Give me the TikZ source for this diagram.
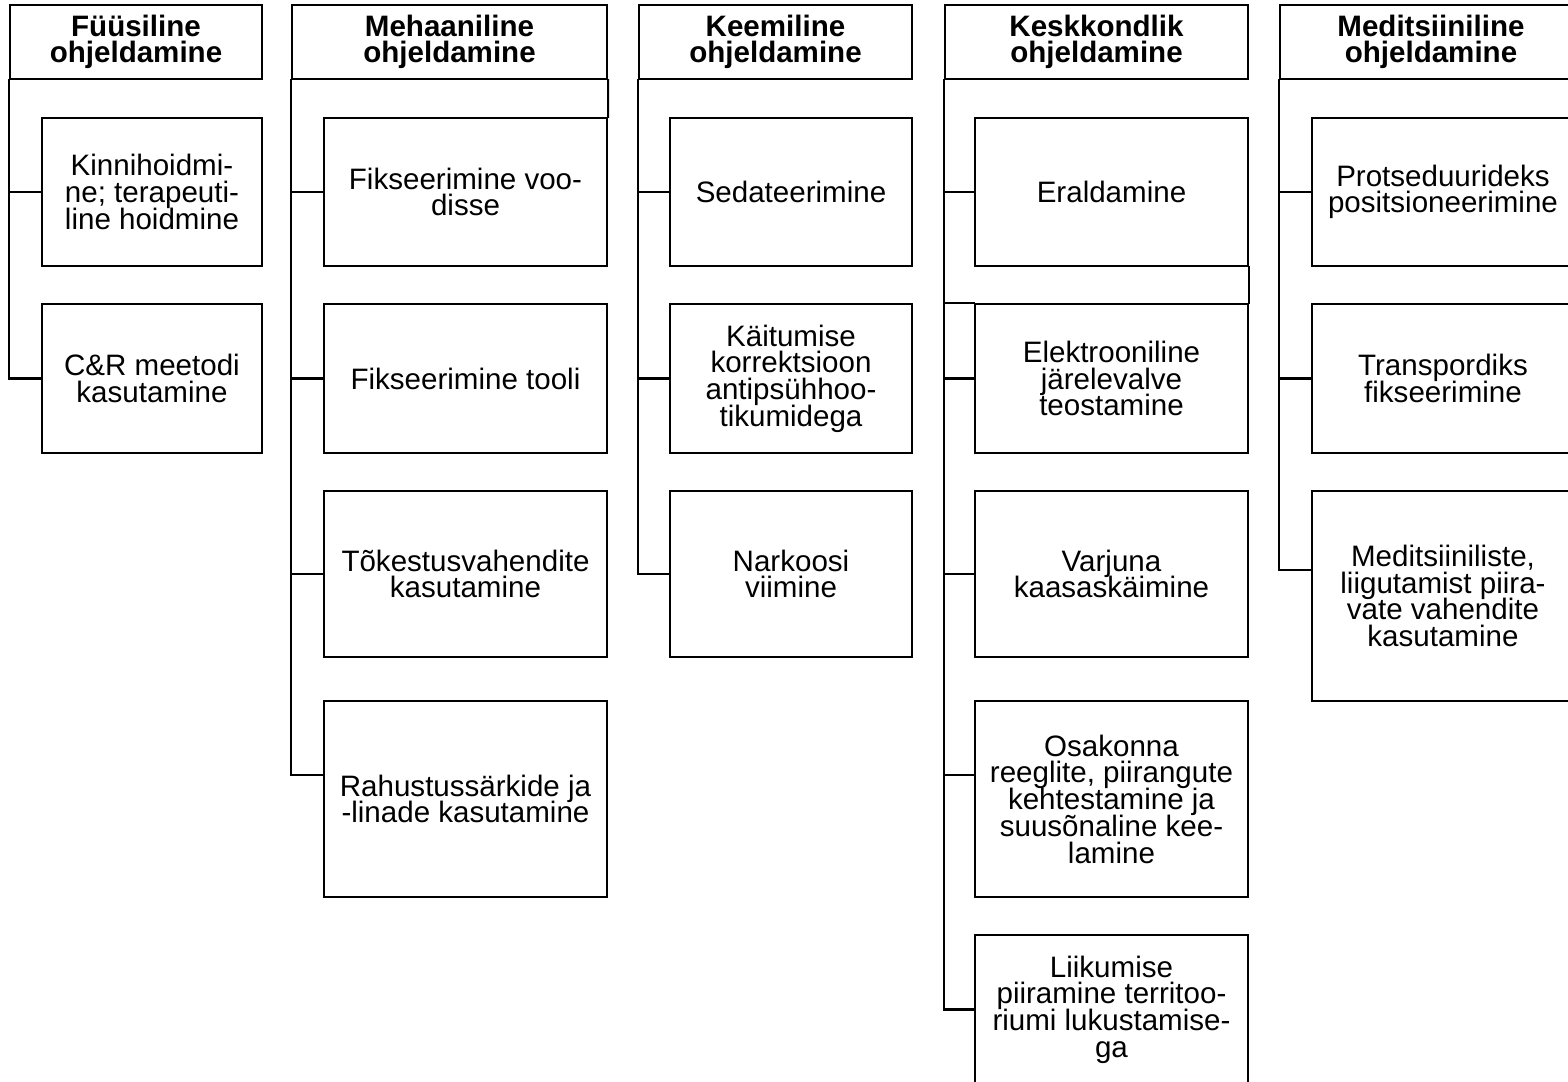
\documentclass[tikz,border=0pt]{standalone}
\usepackage{fontspec}
\setmainfont{Liberation Sans}
\usepackage{tikz}
\setlength{\lineskiplimit}{-20pt}
\tikzset{
  ohhead/.style={draw=black, line width=0.6pt, align=center, inner sep=0pt, minimum height=0.74cm, font=\fontsize{8.4}{7.6}\selectfont\bfseries},
  ohbox/.style={draw=black, line width=0.6pt, align=center, inner sep=0pt, font=\fontsize{8.4}{7.6}\selectfont},
  ohline/.style={line width=0.6pt, draw=black, line cap=rect},
}

\begin{document}
\begin{tikzpicture}[x=0.01cm, y=-0.01cm]
\clip (0,0) rectangle (1568,1082);
\fill[white] (0,0) rectangle (1568,1082);
% headers
\node[ohhead, minimum width=2.52cm] (h1) at (136,42) {Füüsiline\\ohjeldamine};
\node[ohhead, minimum width=3.15cm] (h2) at (449.5,42) {Mehaaniline\\ohjeldamine};
\node[ohhead, minimum width=2.73cm] (h3) at (775.5,42) {Keemiline\\ohjeldamine};
\node[ohhead, minimum width=3.03cm] (h4) at (1096.5,42) {Keskkondlik\\ohjeldamine};
\node[ohhead, minimum width=3.02cm] (h5) at (1431,42) {Meditsiiniline\\ohjeldamine};
% column 1
\node[ohbox, minimum width=2.20cm, minimum height=1.48cm] (b11) at (152,192) {Kinnihoidmi-\\ne; terapeuti-\\line hoidmine};
\node[ohbox, minimum width=2.20cm, minimum height=1.49cm] (b12) at (152,378.5) {C\&R meetodi\\kasutamine};
% column 2
\node[ohbox, minimum width=2.83cm, minimum height=1.48cm] (b21) at (465.5,192) {Fikseerimine voo-\\disse};
\node[ohbox, minimum width=2.83cm, minimum height=1.49cm] (b22) at (465.5,378.5) {Fikseerimine tooli};
\node[ohbox, minimum width=2.83cm, minimum height=1.66cm] (b23) at (465.5,574) {Tõkestusvahendite\\kasutamine};
\node[ohbox, minimum width=2.83cm, minimum height=1.96cm] (b24) at (465.5,799) {Rahustussärkide ja\\-linade kasutamine};
% column 3
\node[ohbox, minimum width=2.42cm, minimum height=1.48cm] (b31) at (791,192) {Sedateerimine};
\node[ohbox, minimum width=2.42cm, minimum height=1.49cm] (b32) at (791,378.5) {Käitumise\\korrektsioon\\antipsühhoo-\\tikumidega};
\node[ohbox, minimum width=2.42cm, minimum height=1.66cm] (b33) at (791,574) {Narkoosi\\viimine};
% column 4
\node[ohbox, minimum width=2.73cm, minimum height=1.48cm] (b41) at (1111.5,192) {Eraldamine};
\node[ohbox, minimum width=2.73cm, minimum height=1.49cm] (b42) at (1111.5,378.5) {Elektrooniline\\järelevalve\\teostamine};
\node[ohbox, minimum width=2.73cm, minimum height=1.66cm] (b43) at (1111.5,574) {Varjuna\\kaasaskäimine};
\node[ohbox, minimum width=2.73cm, minimum height=1.96cm] (b44) at (1111.5,799) {Osakonna\\reeglite, piirangute\\kehtestamine ja\\suusõnaline kee-\\lamine};
\node[ohbox, minimum width=2.73cm, minimum height=1.49cm] (b45) at (1111.5,1009.5) {Liikumise\\piiramine territoo-\\riumi lukustamise-\\ga};
% column 5
\node[ohbox, minimum width=2.62cm, minimum height=1.48cm] (b51) at (1443,192) {Protseduurideks\\positsioneerimine};
\node[ohbox, minimum width=2.62cm, minimum height=1.49cm] (b52) at (1443,378.5) {Transpordiks\\fikseerimine};
\node[ohbox, minimum width=2.62cm, minimum height=2.10cm] (b53) at (1443,596) {Meditsiiniliste,\\liigutamist piira-\\vate vahendite\\kasutamine};
\coordinate (c24) at ([yshift=0.24cm]b24.west);
\coordinate (c44) at ([yshift=0.24cm]b44.west);
\coordinate (c53) at ([yshift=0.26cm]b53.west);
% connectors
\draw[ohline] (h1.south west) |- (b12.west);
\draw[ohline] (h1.south west |- b11.west) -- (b11.west);
\draw[ohline] (h2.south west) |- (c24);
\draw[ohline] (h2.south west |- b21.west) -- (b21.west);
\draw[ohline] (h2.south west |- b22.west) -- (b22.west);
\draw[ohline] (h2.south west |- b23.west) -- (b23.west);
\draw[ohline] (h2.south east) -- (b21.north east);
\draw[ohline] (h3.south west) |- (b33.west);
\draw[ohline] (h3.south west |- b31.west) -- (b31.west);
\draw[ohline] (h3.south west |- b32.west) -- (b32.west);
\draw[ohline] (h4.south west) |- (b45.west);
\draw[ohline] (h4.south west |- b41.west) -- (b41.west);
\draw[ohline] (h4.south west |- b42.west) -- (b42.west);
\draw[ohline] (h4.south west |- b43.west) -- (b43.west);
\draw[ohline] (h4.south west |- c44) -- (c44);
\draw[ohline] (h4.south west |- b42.north) -- (b42.north west);
\draw[ohline] (b41.south east) -- (b42.north east);
\draw[ohline] (h5.south west) |- (c53);
\draw[ohline] (h5.south west |- b51.west) -- (b51.west);
\draw[ohline] (h5.south west |- b52.west) -- (b52.west);
\end{tikzpicture}
\end{document}
